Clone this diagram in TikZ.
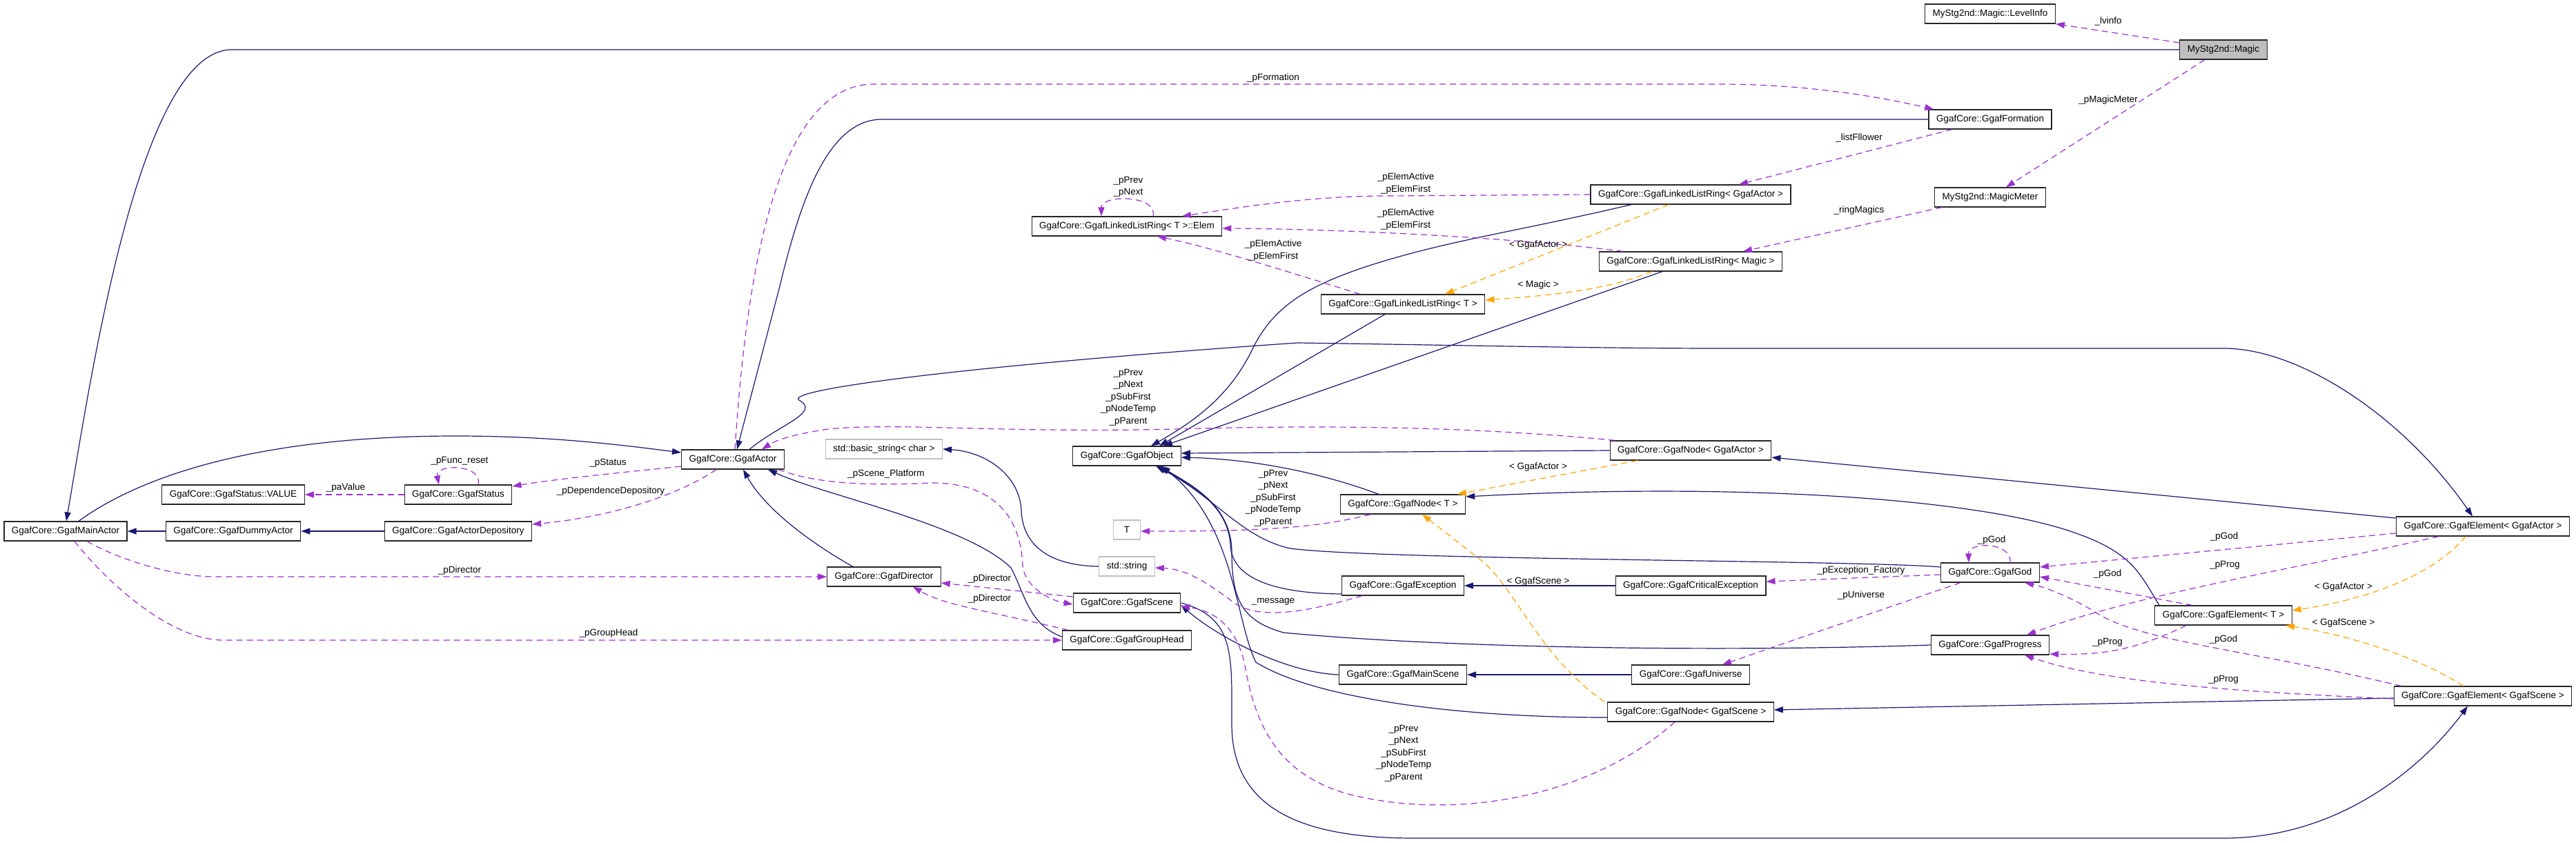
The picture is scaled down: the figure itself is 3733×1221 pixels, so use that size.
\documentclass[tikz,border=0pt]{standalone}
\usepackage{fontspec}
\setmainfont{Liberation Sans}
\usetikzlibrary{arrows.meta,positioning}

\definecolor{inhblue}{HTML}{191970}
\definecolor{usepurple}{HTML}{9A32CD}
\definecolor{tplorange}{HTML}{FFA500}
\definecolor{extgray}{HTML}{BFBFBF}

\begin{document}
\begin{tikzpicture}[
  x=1pt, y=-1pt,
  font=\fontsize{13.5}{17.5}\selectfont,
  >={Triangle[length=13pt,width=9pt]},
  cls/.style={
    draw=black!85,
    line width=1.2pt,
    fill=white,
    minimum height=28pt,
    inner xsep=11pt,
    inner ysep=2pt
  },
  extcls/.style={cls, draw=extgray},
  focus/.style={cls, fill=extgray},
  inh/.style={->, draw=inhblue, line width=1.2pt},
  use/.style={->, draw=usepurple, line width=1.2pt, dash pattern=on 9pt off 6pt},
  tpl/.style={->, draw=tplorange, line width=1.2pt, dash pattern=on 9pt off 6pt},
  lbl/.style={inner sep=0pt, align=center}
]
\useasboundingbox (0,0) rectangle (3733,1221);

% Classes, one column per rank.
\node[focus] (magic) at (3222,72) {MyStg2nd::Magic};
\node[cls] (lvinfo) at (2884,20) {MyStg2nd::Magic::LevelInfo};
\node[cls] (formation) at (2884,173) {GgafCore::GgafFormation};
\node[cls] (magicmeter) at (2884,286) {MyStg2nd::MagicMeter};
\node[cls] (god) at (2884,830) {GgafCore::GgafGod};
\node[cls] (progress) at (2884,935) {GgafCore::GgafProgress};
\node[cls] (elemt) at (3222,892) {GgafCore::GgafElement< T >};
\node[cls] (elemactor) at (3598,763) {GgafCore::GgafElement< GgafActor >};
\node[cls] (elemscene) at (3598,1009) {GgafCore::GgafElement< GgafScene >};

\node[cls] (ringactor) at (2450,282) {GgafCore::GgafLinkedListRing< GgafActor >};
\node[cls] (ringmagic) at (2450,379) {GgafCore::GgafLinkedListRing< Magic >};
\node[cls] (nodeactor) at (2450,653) {GgafCore::GgafNode< GgafActor >};
\node[cls] (critical) at (2450,849) {GgafCore::GgafCriticalException};
\node[cls] (universe) at (2450,978) {GgafCore::GgafUniverse};
\node[cls] (nodescene) at (2450,1032) {GgafCore::GgafNode< GgafScene >};

\node[cls] (ringt) at (2033,441) {GgafCore::GgafLinkedListRing< T >};
\node[cls] (nodet) at (2033,731) {GgafCore::GgafNode< T >};
\node[cls] (exception) at (2033,849) {GgafCore::GgafException};
\node[cls] (mainscene) at (2033,978) {GgafCore::GgafMainScene};

\node[cls] (ringelem) at (1633,328) {GgafCore::GgafLinkedListRing< T >::Elem};
\node[cls] (object) at (1633,661) {GgafCore::GgafObject};
\node[extcls, minimum width=39pt] (tparam) at (1633,768) {T};
\node[extcls] (stdstr) at (1633,821) {std::string};
\node[cls] (scene) at (1633,874) {GgafCore::GgafScene};
\node[cls] (grouphead) at (1633,928) {GgafCore::GgafGroupHead};

\node[extcls] (basicstr) at (1281,651) {std::basic\_string< char >};
\node[cls] (director) at (1281,836) {GgafCore::GgafDirector};
\node[cls] (actor) at (1062,666) {GgafCore::GgafActor};

\node[cls] (status) at (664,717) {GgafCore::GgafStatus};
\node[cls] (depository) at (664,770) {GgafCore::GgafActorDepository};
\node[cls] (statusval) at (338,717) {GgafCore::GgafStatus::VALUE};
\node[cls] (dummy) at (338,770) {GgafCore::GgafDummyActor};
\node[cls] (mainactor) at (95,770) {GgafCore::GgafMainActor};

% Inheritance.
\draw[inh] (magic.west) -- (336,72) .. controls (200,72) and (130,560) .. ([xshift=1pt]mainactor.north);
\draw[inh] (dummy) -- (mainactor);
\draw[inh] (depository) -- (dummy);
\draw[inh] ([xshift=19pt]mainactor.north) .. controls (190,700) and (350,632) .. (660,632)
  .. controls (800,632) and (900,645) .. ([yshift=10pt]actor.west);
\draw[inh] (formation.west) -- (1278,173) .. controls (1200,173) and (1160,290) .. (1130,415)
  -- ([xshift=6pt]actor.north);
\draw[inh] ([xshift=24pt]actor.north) .. controls (1130,615) and (1190,598) .. (1158,580)
  .. controls (1135,565) and (1400,530) .. (1880,497)
  .. controls (2100,500) and (2300,505) .. (2500,505) -- (3223,505)
  .. controls (3330,505) and (3480,600) .. ([xshift=-15pt]elemactor.north);
\draw[inh] ([xshift=-86pt]ringactor.south) .. controls (2200,335) and (2120,345) .. (2010,377)
  .. controls (1900,410) and (1850,440) .. (1818,500)
  .. controls (1790,560) and (1750,600) .. ([xshift=35pt]object.north);
\draw[inh] ([xshift=-26pt]ringt.south) -- ([xshift=47pt]object.north);
\draw[inh] ([xshift=-41pt]ringmagic.south) -- ([xshift=53pt]object.north);
\draw[inh] (nodeactor.west) -- ([yshift=4pt]object.east);
\draw[inh] ([xshift=-35pt]nodet.north) .. controls (1900,680) and (1800,665) .. ([yshift=-2pt]object.east);
\draw[inh] ([yshift=12pt]elemactor.west) -- ([yshift=-10pt]nodeactor.east);
\draw[inh] ([xshift=-93pt]elemt.north) .. controls (3100,830) and (3090,800) .. (3000,770)
  .. controls (2850,720) and (2500,700) .. ([yshift=11pt]nodet.east);
\draw[inh] ([yshift=-3pt]elemscene.west) -- ([yshift=3pt]nodescene.east);
\draw[inh] (scene.east) .. controls (1790,895) and (1785,950) .. (1785,1050)
  .. controls (1785,1180) and (1900,1215) .. (2050,1215) -- (3222,1215)
  .. controls (3400,1215) and (3520,1100) .. ([xshift=-22pt]elemscene.south);
\draw[inh] (stdstr.west) .. controls (1520,820) and (1482,790) .. (1480,740)
  .. controls (1478,690) and (1430,655) .. (basicstr.east);
\draw[inh] ([xshift=-45pt]director.north) .. controls (1180,790) and (1110,740) .. ([xshift=15pt]actor.south);
\draw[inh] ([yshift=5pt]grouphead.west) .. controls (1490,905) and (1485,860) .. (1465,823)
  .. controls (1400,760) and (1200,720) .. ([xshift=51pt]actor.south);
\draw[inh] ([yshift=-12pt]exception.west) .. controls (1850,860) and (1785,840) .. (1783,790)
  .. controls (1780,730) and (1720,700) .. ([xshift=45pt]object.south);
\draw[inh] (progress.west) .. controls (2500,945) and (2100,940) .. (1860,917)
  .. controls (1800,900) and (1785,870) .. (1785,800)
  .. controls (1785,730) and (1720,700) .. ([xshift=48pt]object.south);
\draw[inh] ([yshift=8pt]god.west) .. controls (2700,812) and (2000,812) .. (1870,795)
  .. controls (1800,780) and (1760,720) .. ([xshift=42pt]object.south);
\draw[inh] ([yshift=-8pt]nodescene.west) .. controls (2100,1040) and (1900,1010) .. (1820,960)
  .. controls (1790,900) and (1790,760) .. ([xshift=50pt]object.south);
\draw[inh] (mainscene.west) .. controls (1860,975) and (1760,920) .. ([yshift=-3pt]scene.east);
\draw[inh] (critical) -- (exception);
\draw[inh] (universe) -- (mainscene);

% Members.
\draw[use] ([yshift=10pt]magic.west) -- (lvinfo.south east);
\draw[use] ([xshift=-27pt]magic.south) -- ([xshift=23pt]magicmeter.north);
\draw[use] ([xshift=3pt]actor.north) .. controls (1080,420) and (1120,122) .. (1266,122) -- (2490,122)
  .. controls (2600,122) and (2700,135) .. ([xshift=8pt]formation.north west);
\draw[use] ([xshift=-55pt]formation.south) -- ([xshift=70pt]ringactor.north);
\draw[use] ([xshift=-70pt]magicmeter.south) -- ([xshift=76pt]ringmagic.north);
\draw[use] (ringactor.west) -- (2010,284) .. controls (1900,284) and (1800,300) .. ([xshift=80pt]ringelem.north);
\draw[use] ([xshift=-98pt]ringmagic.north) .. controls (2200,345) and (1950,332) .. ([yshift=-3pt]ringelem.east);
\draw[use] ([xshift=-62pt]ringt.north) .. controls (1870,395) and (1760,360) .. ([xshift=44pt]ringelem.south);
\draw[use] ([xshift=38pt]ringelem.north) .. controls (1678,282) and (1596,282) .. ([xshift=-37pt]ringelem.north);
\draw[use] ([xshift=-110pt]nodeactor.north) .. controls (2150,620) and (1950,615) .. (1700,622)
  .. controls (1450,628) and (1300,612) .. (1200,622)
  .. controls (1160,628) and (1130,635) .. ([xshift=42pt]actor.north);
\draw[use] ([xshift=-47pt]nodet.south) .. controls (1900,768) and (1800,770) .. ([yshift=-2pt]tparam.east);
\draw[use] ([xshift=-23pt]nodescene.south) .. controls (2300,1160) and (2100,1190) .. (1950,1150)
  .. controls (1850,1120) and (1820,1050) .. (1805,970)
  .. controls (1795,910) and (1760,885) .. ([yshift=-5pt]scene.east);
\draw[use] ([yshift=-10pt]actor.west) .. controls (900,685) and (800,695) .. ([yshift=12pt]status.east);
\draw[use] ([xshift=-24pt]actor.south) .. controls (980,720) and (880,750) .. ([yshift=10pt]depository.east);
\draw[use] ([xshift=29pt]status.north) .. controls (700,672) and (630,672) .. ([xshift=-28pt]status.north);
\draw[use] (status) -- (statusval);
\draw[use] ([xshift=31pt]mainactor.south) .. controls (170,810) and (250,836) .. (312,836) -- (director.west);
\draw[use] ([xshift=13pt]mainactor.south) .. controls (160,850) and (250,928) .. (324,928) -- (grouphead.west);
\draw[use] ([yshift=9pt]scene.west) -- ([yshift=-9pt]director.east);
\draw[use] ([xshift=-85pt]grouphead.north) .. controls (1430,885) and (1370,878) .. ([xshift=42pt]director.south);
\draw[use] ([xshift=66pt]actor.south) .. controls (1180,700) and (1250,705) .. (1350,700)
  .. controls (1450,700) and (1480,760) .. (1482,820)
  .. controls (1485,850) and (1520,870) .. ([yshift=-2pt]scene.west);
\draw[use] ([xshift=-59pt]exception.south) .. controls (1900,885) and (1830,900) .. (1790,875)
  .. controls (1750,845) and (1720,825) .. ([yshift=-2pt]stdstr.east);
\draw[use] ([yshift=-3pt]god.west) -- ([yshift=6pt]critical.east);
\draw[use] ([xshift=-43pt]god.south) -- ([xshift=46pt]universe.north);
\draw[use] ([xshift=29pt]god.north) .. controls (2916,785) and (2852,785) .. ([xshift=-31pt]god.north);
\draw[use] ([yshift=-10pt]elemactor.west) -- ([yshift=8pt]god.east);
\draw[use] ([xshift=-64pt]elemactor.south) .. controls (3350,820) and (3100,860) .. ([xshift=53pt]progress.north);
\draw[use] ([xshift=-45pt]elemt.north) -- ([yshift=-6pt]god.east);
\draw[use] ([xshift=-54pt]elemt.south) .. controls (3100,940) and (3050,950) .. ([yshift=-13pt]progress.east);
\draw[use] ([xshift=-118pt]elemscene.north) .. controls (3250,940) and (3100,930) .. (3036,887)
  .. controls (3000,865) and (2960,850) .. ([xshift=50pt]god.south);
\draw[use] ([yshift=-4pt]elemscene.west) .. controls (3250,1003) and (3050,990) .. ([xshift=50pt]progress.south);

% Template instances.
\draw[tpl] ([xshift=-32pt]ringactor.south) -- ([xshift=61pt]ringt.north);
\draw[tpl] ([xshift=-56pt]ringmagic.south) .. controls (2330,420) and (2250,428) .. ([yshift=6pt]ringt.east);
\draw[tpl] ([xshift=-77pt]nodeactor.south) -- ([xshift=79pt]nodet.north);
\draw[tpl] ([xshift=-125pt]nodescene.north) .. controls (2230,950) and (2200,860) .. (2150,815)
  -- ([xshift=28pt]nodet.south);
\draw[tpl] ([xshift=-25pt]elemactor.south) .. controls (3520,840) and (3420,870) .. ([yshift=7pt]elemt.east);
\draw[tpl] ([xshift=-28pt]elemscene.north) .. controls (3500,950) and (3400,920) .. ([xshift=90pt]elemt.south);

% Edge labels.
\node[lbl] (lbLvinfo) at (3055,31) {\_lvinfo};
\node[lbl] (lbMagicMeter) at (3055,145) {\_pMagicMeter};
\node[lbl] (lbFormation) at (1845,113) {\_pFormation};
\node[lbl] (lbFllower) at (2694,200) {\_listFllower};
\node[lbl] (lbRingMagics) at (2694,305) {\_ringMagics};
\node[lbl] (lbElemA) at (2037,266) {\_pElemActive\\\_pElemFirst};
\node[lbl] (lbElemM) at (2037,318) {\_pElemActive\\\_pElemFirst};
\node[lbl] (lbElemT) at (1845,363) {\_pElemActive\\\_pElemFirst};
\node[lbl] (lbElemLoop) at (1635,271) {\_pPrev\\\_pNext};
\node[lbl] (lbNodeActor) at (1635,576) {\_pPrev\\\_pNext\\\_pSubFirst\\\_pNodeTemp\\\_pParent};
\node[lbl] (lbNodeT) at (1845,722) {\_pPrev\\\_pNext\\\_pSubFirst\\\_pNodeTemp\\\_pParent};
\node[lbl] (lbNodeScene) at (2034,1092) {\_pPrev\\\_pNext\\\_pSubFirst\\\_pNodeTemp\\\_pParent};
\node[lbl] (lbStatus) at (881,671) {\_pStatus};
\node[lbl] (lbDepo) at (885,712) {\_pDependenceDepository};
\node[lbl] (lbReset) at (666,668) {\_pFunc\_reset};
\node[lbl] (lbValue) at (501,707) {\_paValue};
\node[lbl] (lbDirMain) at (666,827) {\_pDirector};
\node[lbl] (lbGroupHead) at (882,918) {\_pGroupHead};
\node[lbl] (lbDirScene) at (1434,839) {\_pDirector};
\node[lbl] (lbDirGroup) at (1434,868) {\_pDirector};
\node[lbl] (lbPlatform) at (1284,687) {\_pScene\_Platform};
\node[lbl] (lbMessage) at (1845,872) {\_message};
\node[lbl] (lbFactory) at (2697,827) {\_pException\_Factory};
\node[lbl] (lbUniverse) at (2697,863) {\_pUniverse};
\node[lbl] (lbGodLoop) at (2886,783) {\_pGod};
\node[lbl] (lbGodA) at (3223,778) {\_pGod};
\node[lbl] (lbProgA) at (3224,819) {\_pProg};
\node[lbl] (lbGodT) at (3054,832) {\_pGod};
\node[lbl] (lbProgT) at (3054,931) {\_pProg};
\node[lbl] (lbGodS) at (3222,927) {\_pGod};
\node[lbl] (lbProgS) at (3222,985) {\_pProg};
\node[lbl] (lbTplRingA) at (2229,355) {< GgafActor >};
\node[lbl] (lbTplRingM) at (2229,413) {< Magic >};
\node[lbl] (lbTplNodeA) at (2229,677) {< GgafActor >};
\node[lbl] (lbTplNodeS) at (2229,843) {< GgafScene >};
\node[lbl] (lbTplElemA) at (3396,851) {< GgafActor >};
\node[lbl] (lbTplElemS) at (3396,903) {< GgafScene >};

\end{tikzpicture}
\end{document}
